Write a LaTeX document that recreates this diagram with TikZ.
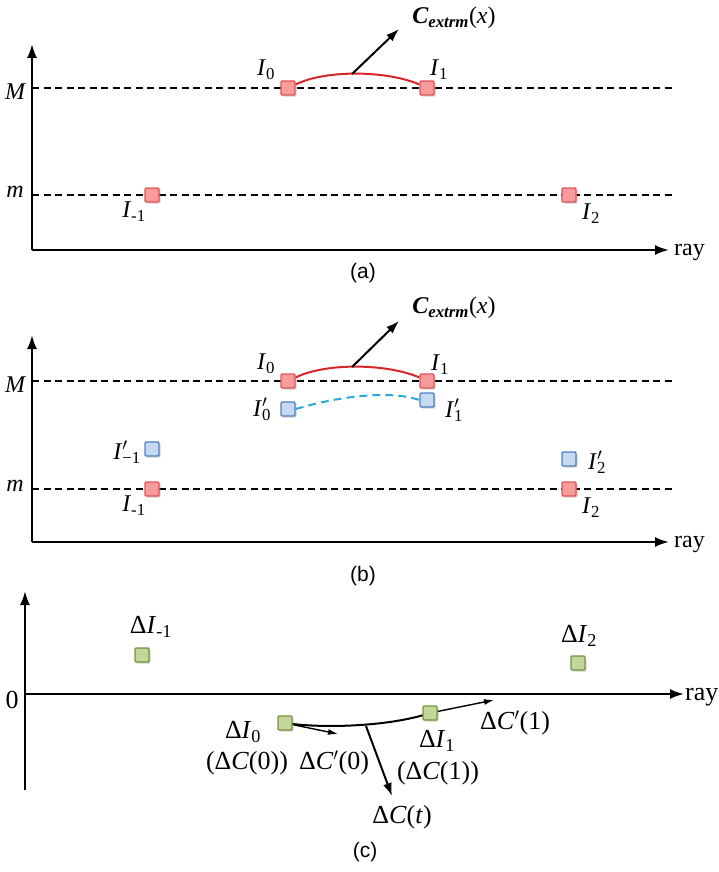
\documentclass[tikz,border=0pt]{standalone}
\usepackage{fontspec}
\setmainfont{Liberation Serif}
\newfontfamily\capfont{Liberation Sans}
\usetikzlibrary{arrows.meta,shadows}
\definecolor{redfill}{HTML}{F79B9B}
\definecolor{reddraw}{HTML}{E0555A}
\definecolor{bluefill}{HTML}{C6D9F1}
\definecolor{bluedraw}{HTML}{4F81BD}
\definecolor{greenfill}{HTML}{C3D69B}
\definecolor{greendraw}{HTML}{77933C}
\definecolor{curvered}{HTML}{D9262B}
\definecolor{curvecyan}{HTML}{2EA8D8}
\newcommand\Lsub[2]{\textit{#1}\textsubscript{#2}}
\newcommand\Lpr[1]{\textit{I}\makebox[0pt][l]{$'$}\textsubscript{#1}}
\newcommand\Cex{{\bfseries\itshape C}\textsubscript{\bfseries\itshape extrm}(\textit{x})}
\tikzset{
  sq/.style={draw, minimum size=14pt, inner sep=0pt, line width=1.4pt, rounded corners=1.2pt,
    drop shadow={shadow xshift=1.6pt, shadow yshift=-1.6pt, opacity=0.35, fill=black!50}},
  redsq/.style={sq, fill=redfill, draw=reddraw},
  bluesq/.style={sq, fill=bluefill, draw=bluedraw},
  greensq/.style={sq, fill=greenfill, draw=greendraw},
  axis/.style={line width=2.2pt, -{Latex[length=14pt,width=10pt]}},
  guide/.style={line width=1.2pt, dash pattern=on 7pt off 4.5pt},
  arr/.style={line width=2pt, -{Latex[length=13pt,width=9pt]}},
  thinarr/.style={line width=1.4pt, -{Latex[length=10pt,width=6pt]}},
  lbl/.style={inner sep=0pt, font=\fontsize{24}{27}\selectfont},
  lblc/.style={inner sep=0pt, font=\fontsize{26}{29}\selectfont},
  captxt/.style={inner sep=0pt, font=\capfont\fontsize{21}{24}\selectfont},
}
\begin{document}
\begin{tikzpicture}[x=1pt,y=-1pt]
\useasboundingbox (0,0) rectangle (718,872);
% ================= panel (a)
\coordinate (oa) at (32,250);
\coordinate (ya) at (32,44);
\coordinate (xa) at (669,250);
\coordinate (Mla) at (32,88);
\coordinate (Mra) at (672,88);
\coordinate (mla) at (32,195);
\coordinate (mra) at (672,195);
\draw[guide] (Mla) -- (Mra);
\draw[guide] (mla) -- (mra);
\draw[axis] (oa) -- (ya);
\draw[axis] (oa) -- (xa);
\node[lbl, font=\fontsize{24}{27}\selectfont\itshape] (Ma) at (15,92) {M};
\node[lbl, font=\fontsize{24}{27}\selectfont\itshape] (ma) at (15,192) {m};
\node[lbl, anchor=west] (raya) at (674,252) {ray};
\node[redsq] (I0a) at (288,88) {};
\node[redsq] (I1a) at (427,88) {};
\node[redsq] (Ima) at (152,195) {};
\node[redsq] (I2a) at (569,195) {};
\draw[curvered, line width=2pt] (I0a.25) .. controls (325,70) and (385,70) .. (I1a.155);
\coordinate (pka) at (352,74);
\coordinate (tipa) at (399,29);
\draw[arr] (pka) -- (tipa);
\node[lbl] (Ca) at (454,18) {\Cex};
\node[lbl] (lI0a) at (266,70) {\Lsub{I}{0}};
\node[lbl] (lI1a) at (439,70) {\Lsub{I}{1}};
\node[lbl] (lIma) at (134,212) {\Lsub{I}{-1}};
\node[lbl] (lI2a) at (591,214) {\Lsub{I}{2}};
\node[captxt] (capa) at (363,273) {(a)};
% ================= panel (b)
\coordinate (ob) at (32,542);
\coordinate (yb) at (32,335);
\coordinate (xb) at (669,542);
\coordinate (Mlb) at (32,381);
\coordinate (Mrb) at (672,381);
\coordinate (mlb) at (32,489);
\coordinate (mrb) at (672,489);
\draw[guide] (Mlb) -- (Mrb);
\draw[guide] (mlb) -- (mrb);
\draw[axis] (ob) -- (yb);
\draw[axis] (ob) -- (xb);
\node[lbl, font=\fontsize{24}{27}\selectfont\itshape] (Mb) at (15,385) {M};
\node[lbl, font=\fontsize{24}{27}\selectfont\itshape] (mb) at (15,486) {m};
\node[lbl, anchor=west] (rayb) at (674,544) {ray};
\node[redsq] (I0b) at (288,381) {};
\node[redsq] (I1b) at (427,381) {};
\node[redsq] (Imb) at (152,489) {};
\node[redsq] (I2b) at (569,489) {};
\node[bluesq] (P0b) at (288,409) {};
\node[bluesq] (P1b) at (427,400) {};
\node[bluesq] (Pmb) at (152,449) {};
\node[bluesq] (P2b) at (569,459) {};
\draw[curvered, line width=2pt] (I0b.25) .. controls (325,363) and (385,363) .. (I1b.155);
\draw[curvecyan, line width=2pt, dash pattern=on 8pt off 5pt] (P0b.east) .. controls (340,396) and (390,390) .. (P1b.west);
\coordinate (pkb) at (352,367);
\coordinate (tipb) at (399,321);
\draw[arr] (pkb) -- (tipb);
\node[lbl] (Cb) at (454,308) {\Cex};
\node[lbl] (lI0b) at (266,364) {\Lsub{I}{0}};
\node[lbl] (lI1b) at (440,365) {\Lsub{I}{1}};
\node[lbl] (lP0b) at (262,409) {\Lpr{0}};
\node[lbl] (lP1b) at (454,410) {\Lpr{1}};
\node[lbl] (lPmb) at (127,452) {\Lpr{−1}};
\node[lbl] (lP2b) at (597,462) {\Lpr{2}};
\node[lbl] (lImb) at (134,506) {\Lsub{I}{-1}};
\node[lbl] (lI2b) at (591,508) {\Lsub{I}{2}};
\node[captxt] (capb) at (363,576) {(b)};
% ================= panel (c)
\coordinate (oc) at (25,694);
\coordinate (yc) at (25,591);
\coordinate (yd) at (25,790);
\coordinate (xc) at (684,694);
\draw[axis] (yd) -- (yc);
\draw[axis] (oc) -- (xc);
\node[lblc] (zc) at (12,700) {0};
\node[lblc, anchor=west] (rayc) at (685,697) {ray};
\coordinate (c0) at (285,723);
\coordinate (c1) at (430,713);
\coordinate (cpk) at (366,726);
\coordinate (t1) at (494,700);
\coordinate (t0) at (338,734);
\coordinate (tt) at (392,796);
\draw[line width=2pt] (c0) .. controls (325,729) and (392,726) .. (c1);
\draw[thinarr] (c1) -- (t1);
\draw[thinarr] (c0) -- (t0);
\draw[arr] (cpk) -- (tt);
\node[greensq] (D0) at (c0) {};
\node[greensq] (D1) at (c1) {};
\node[greensq] (Dm) at (142,655) {};
\node[greensq] (D2) at (578,663) {};
\node[lblc] (lDm) at (151,627) {Δ\Lsub{I}{-1}};
\node[lblc] (lD2) at (579,636) {Δ\Lsub{I}{2}};
\node[lblc] (lD0) at (243,732) {Δ\Lsub{I}{0}};
\node[lblc] (lDC0) at (247,763) {(Δ\textit{C}(0))};
\node[lblc] (lDp0) at (334,763) {Δ\textit{C}$'$(0)};
\node[lblc] (lD1) at (437,741) {Δ\Lsub{I}{1}};
\node[lblc] (lDC1) at (438,773) {(Δ\textit{C}(1))};
\node[lblc] (lDp1) at (515,723) {Δ\textit{C}$'$(1)};
\node[lblc] (lDt) at (402,817) {Δ\textit{C}(\textit{t})};
\node[captxt] (capc) at (365,852) {(c)};
\end{tikzpicture}
\end{document}
